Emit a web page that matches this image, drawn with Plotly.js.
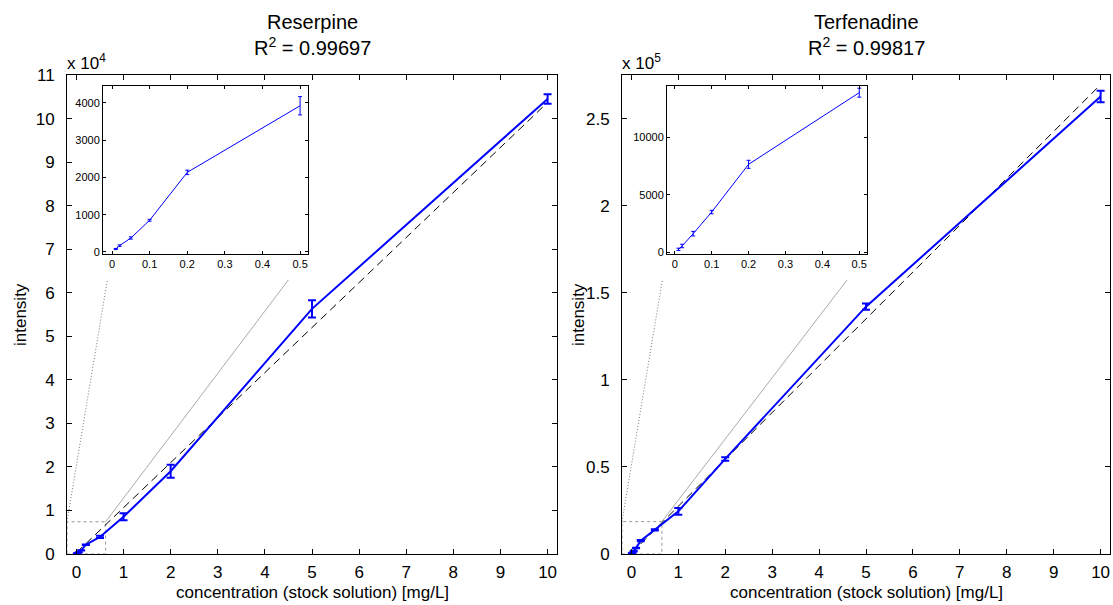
<!DOCTYPE html>
<html><head><meta charset="utf-8">
<script src="https://cdn.plot.ly/plotly-3.0.1.min.js"></script>
<style>html,body{margin:0;padding:0;background:#fff}#chart{width:1113px;height:605px}</style>
</head><body><div id="chart"></div>
<script>
// ---------------- data ----------------
const concentration = [0.01, 0.02, 0.05, 0.1, 0.2, 0.5, 1, 2, 5, 10];
const reserpine      = [80, 170, 375, 850, 2135, 3920, 8550, 19000, 56300, 104500];
const reserpineErr   = [15, 20, 30, 25, 60, 245, 800, 1500, 2000, 1100];
const terfenadine    = [260, 550, 1620, 3500, 7650, 13880, 24500, 54600, 142000, 262600];
const terfenadineErr = [100, 150, 200, 150, 350, 390, 1900, 1000, 1800, 3300];
const fitX           = [0, 10];
const reserpineFit   = [300, 103700];
const terfenadineFit = [500, 269500];
const insetCount = 6; // inset shows the six lowest concentrations

const mainXTicks = [0, 1, 2, 3, 4, 5, 6, 7, 8, 9, 10];
const reserpineYTickText = ['0','1','2','3','4','5','6','7','8','9','10','11'];
const reserpineYTickVals = [0,1e4,2e4,3e4,4e4,5e4,6e4,7e4,8e4,9e4,10e4,11e4];
const terfenadineYTickText = ['0','0.5','1','1.5','2','2.5'];
const terfenadineYTickVals = [0,0.5e5,1e5,1.5e5,2e5,2.5e5];
const insetXTicks = [0, 0.1, 0.2, 0.3, 0.4, 0.5];
const reserpineInsetYTicks = [0, 1000, 2000, 3000, 4000];
const terfenadineInsetYTicks = [0, 5000, 10000];

// ---------------- layout geometry ----------------
const W = 1113, H = 605, ML = 67, MR = 3, MT = 75, MB = 51;
const PW = W - ML - MR, PH = H - MT - MB;
const pxX = px => (px - ML) / PW;
const pxY = py => (H - MB - py) / PH;

const FONT = 'Liberation Sans, Arial, Helvetica, sans-serif';
const BLUE = '#0000ff';

const dom = {
  x:  [0, pxX(557)],           y:  [0, 1],
  x2: [pxX(622), 1],           y2: [0, 1],
  x3: [pxX(103), pxX(308)],    y3: [pxY(254), pxY(86)],
  x4: [pxX(667), pxX(867)],    y4: [pxY(254), pxY(86)]
};
const rng = {
  x: [-0.2, 10.2], y: [0, 110000],
  x2: [-0.2, 10.2], y2: [0, 275000],
  x3: [-0.024, 0.521], y3: [-54, 4450],
  x4: [-0.021, 0.521], y4: [-148, 14460]
};
function toPaper(ax, v) {
  const d = dom[ax], r = rng[ax];
  return d[0] + (v - r[0]) / (r[1] - r[0]) * (d[1] - d[0]);
}

const baseAxis = {
  showline: true, linecolor: '#000', linewidth: 1, mirror: 'ticks',
  ticks: 'inside', ticklen: 5, tickcolor: '#000', tickwidth: 1,
  showgrid: false, zeroline: false, fixedrange: true,
  tickfont: {family: FONT, size: 17, color: '#000'}
};
const insetAxis = Object.assign({}, baseAxis, {ticklen: 3, tickfont: {family: FONT, size: 11, color: '#000'}});

function fitTrace(xa, ya, y) {
  return {x: fitX, y: y, xaxis: xa, yaxis: ya, type: 'scatter', mode: 'lines',
    line: {color: '#000', width: 1, dash: '8px,5px'}, hoverinfo: 'skip'};
}
function dataTrace(xa, ya, x, y, e, lw, ew, cw) {
  return {x: x, y: y, xaxis: xa, yaxis: ya, type: 'scatter', mode: 'lines',
    line: {color: BLUE, width: lw},
    error_y: {type: 'data', array: e, visible: true, color: BLUE, thickness: ew, width: cw}};
}

const data = [
  fitTrace('x', 'y', reserpineFit),
  dataTrace('x', 'y', concentration, reserpine, reserpineErr, 2, 2, 4),
  fitTrace('x2', 'y2', terfenadineFit),
  dataTrace('x2', 'y2', concentration, terfenadine, terfenadineErr, 2, 2, 4),
  dataTrace('x3', 'y3', concentration.slice(0, insetCount), reserpine.slice(0, insetCount),
            reserpineErr.slice(0, insetCount), 1, 1, 2),
  dataTrace('x4', 'y4', concentration.slice(0, insetCount), terfenadine.slice(0, insetCount),
            terfenadineErr.slice(0, insetCount), 1, 1, 2)
];

// zoom-box + connector shapes
const zoomBox = {
  left:  {x: 'x',  y: 'y',  ix: 'x3', iy: 'y3', x1: 0.62, y1: 7400,  dotTargetX: 0},
  right: {x: 'x2', y: 'y2', ix: 'x4', iy: 'y4', x1: 0.65, y1: 18600, dotTargetX: -0.021}
};
const shapes = [];
Object.values(zoomBox).forEach(z => {
  const bx0 = toPaper(z.x, rng[z.x][0]), bx1 = toPaper(z.x, z.x1);
  const by0 = toPaper(z.y, 0), by1 = toPaper(z.y, z.y1);
  shapes.push({type: 'rect', xref: 'paper', yref: 'paper', x0: bx0, x1: bx1, y0: by0, y1: by1,
    line: {color: '#999', width: 1, dash: 'dot'}, layer: 'below'});
  shapes.push({type: 'line', xref: 'paper', yref: 'paper', x0: bx0, y0: by1,
    x1: toPaper(z.ix, z.dotTargetX), y1: toPaper(z.iy, 0),
    line: {color: '#777', width: 1, dash: '1px,2px'}, layer: 'below'});
  shapes.push({type: 'line', xref: 'paper', yref: 'paper', x0: bx1, y0: by1,
    x1: dom[z.ix][1], y1: dom[z.iy][0],
    line: {color: '#aaa', width: 1}, layer: 'below'});
});
// white masks behind inset tick labels
['x3', 'x4'].forEach((ix, k) => {
  const iy = k === 0 ? 'y3' : 'y4';
  shapes.push({type: 'rect', xref: 'paper', yref: 'paper',
    x0: dom[ix][0] - 14 / PW, x1: dom[ix][1] + 10 / PW,
    y0: pxY(280), y1: dom[iy][0],
    fillcolor: '#fff', line: {width: 0}, layer: 'below'});
});

function ann(text, px, py, size, opts) {
  return Object.assign({text: text, xref: 'paper', yref: 'paper', x: pxX(px), y: pxY(py),
    showarrow: false, font: {family: FONT, size: size, color: '#000'},
    xanchor: 'center', yanchor: 'middle'}, opts || {});
}
const annotations = [
  ann('Reserpine', 312, 22, 20),
  ann('R<sup>2</sup> = 0.99697', 312, 46, 20),
  ann('Terfenadine', 866, 22, 20),
  ann('R<sup>2</sup> = 0.99817', 866, 46, 20),
  ann('x 10<sup>4</sup>', 65, 62, 17, {xanchor: 'left'}),
  ann('x 10<sup>5</sup>', 620, 62, 17, {xanchor: 'left'}),
  ann('concentration (stock solution) [mg/L]', 312, 592, 17),
  ann('concentration (stock solution) [mg/L]', 866, 592, 17),
  ann('intensity', 20, 315, 17, {textangle: -90}),
  ann('intensity', 578, 315, 17, {textangle: -90})
];

const layout = {
  width: W, height: H, margin: {l: ML, r: MR, t: MT, b: MB, pad: 0},
  paper_bgcolor: '#fff', plot_bgcolor: '#fff', showlegend: false,
  xaxis: Object.assign({}, baseAxis, {domain: dom.x, range: rng.x, anchor: 'y', tickvals: mainXTicks, ticklabelstandoff: 3}),
  yaxis: Object.assign({}, baseAxis, {domain: dom.y, range: rng.y, anchor: 'x', tickvals: reserpineYTickVals, ticktext: reserpineYTickText, ticklabelstandoff: 8}),
  xaxis2: Object.assign({}, baseAxis, {domain: dom.x2, range: rng.x2, anchor: 'y2', tickvals: mainXTicks, ticklabelstandoff: 3}),
  yaxis2: Object.assign({}, baseAxis, {domain: dom.y2, range: rng.y2, anchor: 'x2', tickvals: terfenadineYTickVals, ticktext: terfenadineYTickText, ticklabelstandoff: 8}),
  xaxis3: Object.assign({}, insetAxis, {domain: dom.x3, range: rng.x3, anchor: 'y3', tickvals: insetXTicks, ticktext: insetXTicks.map(String)}),
  yaxis3: Object.assign({}, insetAxis, {domain: dom.y3, range: rng.y3, anchor: 'x3', tickvals: reserpineInsetYTicks, ticktext: reserpineInsetYTicks.map(String)}),
  xaxis4: Object.assign({}, insetAxis, {domain: dom.x4, range: rng.x4, anchor: 'y4', tickvals: insetXTicks, ticktext: insetXTicks.map(String)}),
  yaxis4: Object.assign({}, insetAxis, {domain: dom.y4, range: rng.y4, anchor: 'x4', tickvals: terfenadineInsetYTicks, ticktext: terfenadineInsetYTicks.map(String)}),
  shapes: shapes,
  annotations: annotations
};

Plotly.newPlot('chart', data, layout, {displayModeBar: false, staticPlot: true});
</script>
</body></html>
